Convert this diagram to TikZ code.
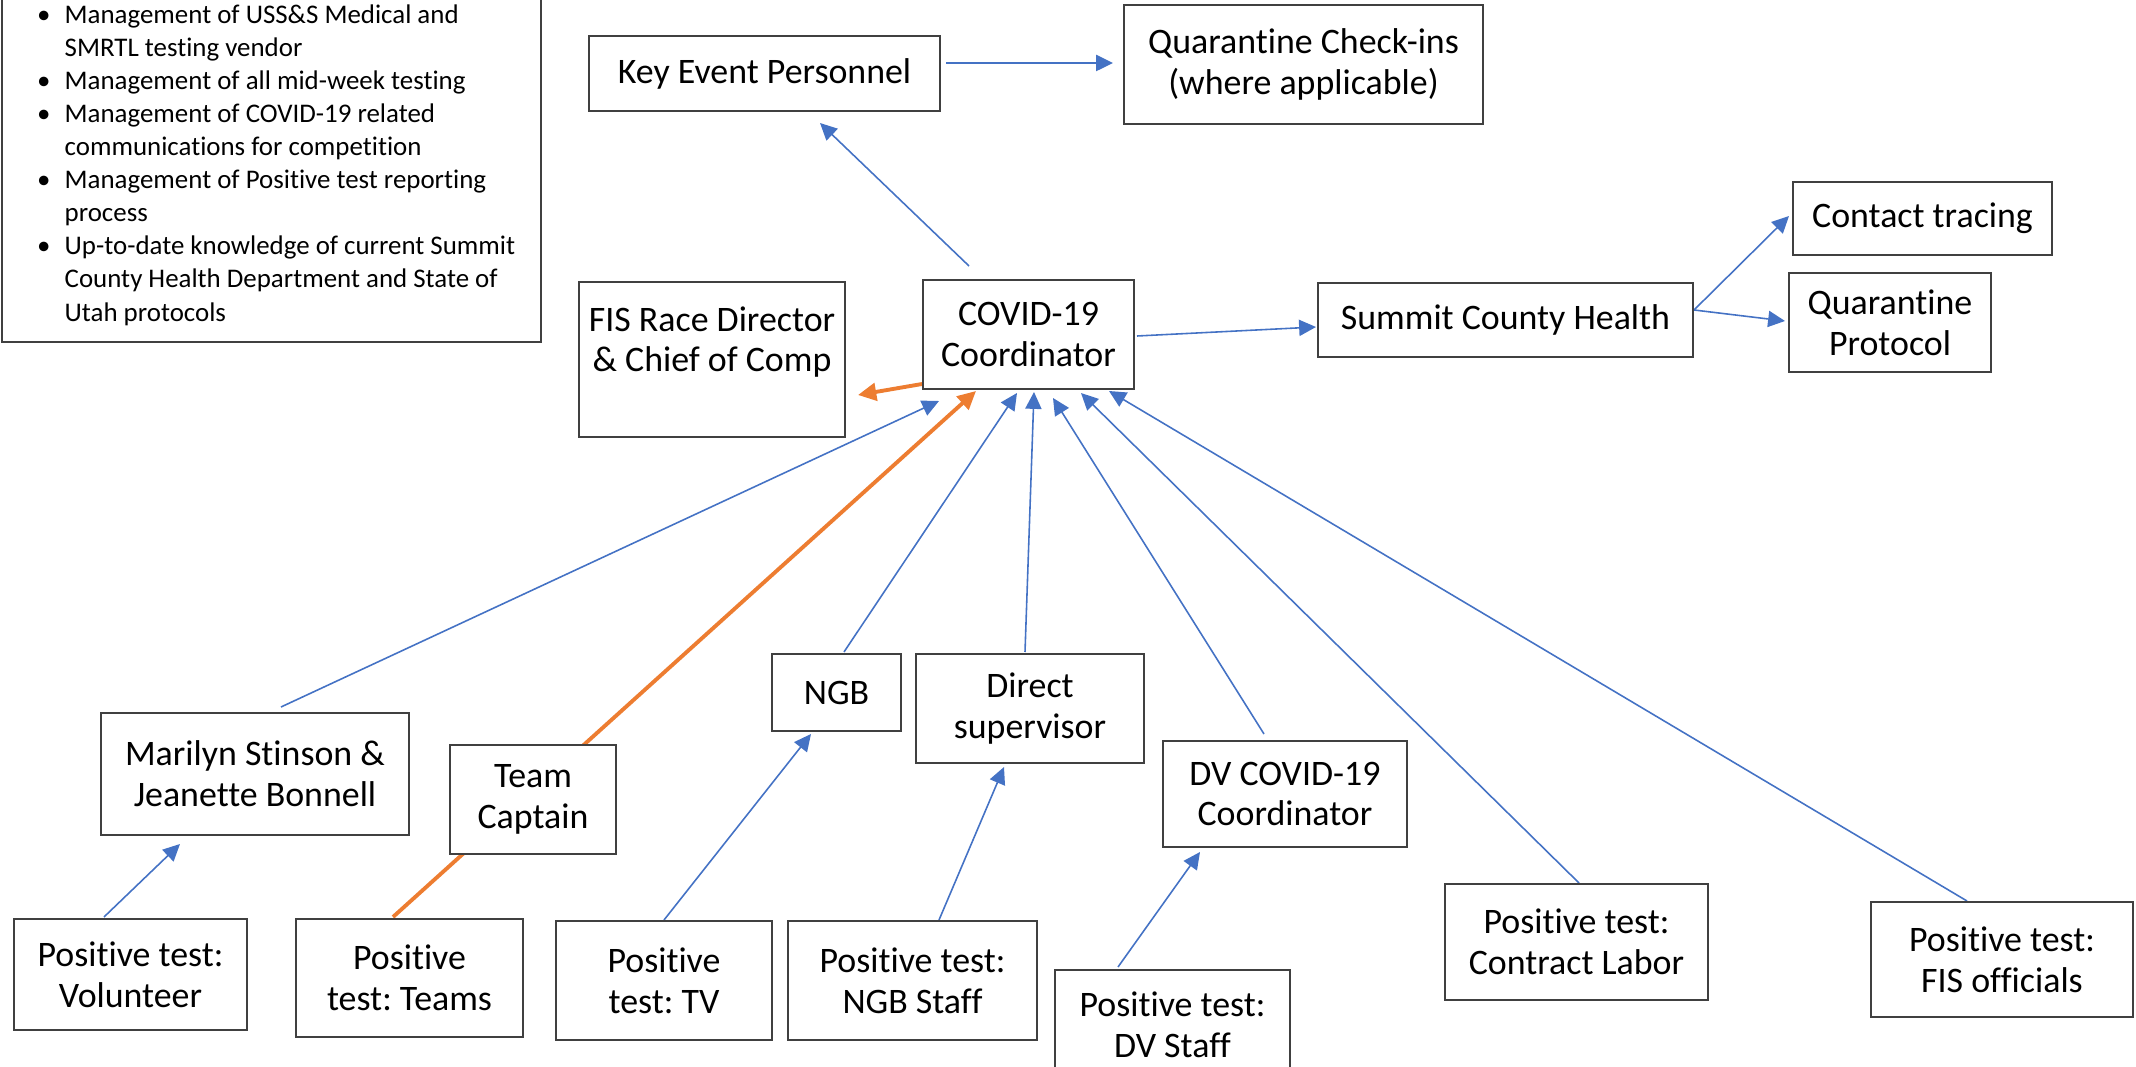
\documentclass[tikz,border=0pt]{standalone}
\usepackage{fontspec}
\setmainfont{Carlito}[Ligatures=NoCommon]
\usetikzlibrary{arrows.meta,calc,backgrounds}
\definecolor{lblue}{HTML}{4472C4}
\definecolor{lorange}{HTML}{ED7D31}
\definecolor{bord}{HTML}{404040}
\newcommand{\mybox}[6]{\node[box, minimum width={(#4-#2)*0.01cm}, minimum height={(#5-#3)*0.01cm}] (#1) at ({(#2+#4)/2},{(#3+#5)/2}) {#6};}
\newcommand{\bul}{\makebox[11.95pt]{\textbullet}}
\frenchspacing
\tikzset{
  box/.style={draw=bord, line width=0.57pt, fill=white, align=center, inner sep=1pt,
    font=\fontsize{10.2}{11.6}\selectfont},
  bluearrow/.style={draw=lblue, line width=0.45pt, -{Triangle[length=4.8pt,width=4.6pt,fill=lblue]}},
  orangearrow/.style={draw=lorange, line width=1.1pt, -{Triangle[length=5.2pt,width=5pt,fill=lorange]}},
}
\begin{document}
\begin{tikzpicture}[x={(0.01cm,0)}, y={(0,-0.01cm)}]
\useasboundingbox (0,0) rectangle (2136,1067);
\clip (0,0) rectangle (2136,1067);

% bullet list box
\mybox{mgmt}{2}{-20}{541}{342}{}
\node[anchor=north west, inner sep=0, font=\fontsize{7.65}{9.39}\selectfont] (list) at (22,0) {%
\begin{tabular}{@{}l@{}l@{}}
\bul & Management of USS\&S Medical and\\
 & SMRTL testing vendor\\
\bul & Management of all mid-week testing\\
\bul & Management of COVID-19 related\\
 & communications for competition\\
\bul & Management of Positive test reporting\\
 & process\\
\bul & Up-to-date knowledge of current Summit\\
 & County Health Department and State of\\
 & Utah protocols
\end{tabular}};

% boxes
\mybox{kep}{589}{36}{940}{111}{Key Event Personnel}
\mybox{qc}{1124}{5}{1483}{124}{Quarantine Check-ins\\(where applicable)}
\mybox{fis}{579}{282}{845}{437}{FIS Race Director\\\& Chief of Comp\\\mbox{}}
\mybox{cov}{923}{280}{1134}{389}{COVID-19\\Coordinator}
\mybox{sch}{1318}{283}{1693}{357}{Summit County Health}
\mybox{ct}{1793}{182}{2052}{255}{Contact tracing}
\mybox{qp}{1789}{273}{1991}{372}{Quarantine\\Protocol}
\mybox{mar}{101}{713}{409}{835}{Marilyn Stinson \&\\Jeanette Bonnell}
\mybox{tc}{450}{745}{616}{854}{Team\\Captain}
\mybox{ngb}{772}{654}{901}{731}{NGB}
\mybox{ds}{916}{654}{1144}{763}{Direct\\supervisor}
\mybox{vol}{14}{919}{247}{1030}{Positive test:\\Volunteer}
\mybox{teams}{296}{919}{523}{1037}{Positive\\test: Teams}
\mybox{tv}{556}{921}{772}{1040}{Positive\\test: TV}
\mybox{ngbs}{788}{921}{1037}{1040}{Positive test:\\NGB Staff}
\mybox{dvc}{1163}{741}{1407}{847}{DV COVID-19\\Coordinator}
\mybox{dvs}{1055}{970}{1290}{1080}{Positive test:\\DV Staff}
\mybox{cl}{1445}{884}{1708}{1000}{Positive test:\\Contract Labor}
\mybox{fiso}{1871}{902}{2133}{1017}{Positive test:\\FIS officials}

% connectors
\begin{scope}[on background layer]
\draw[bluearrow] ($(cov.north west)+(47,-13)$) -- ($(kep.south west)+(232,11)$);
\draw[bluearrow] ($(kep.north east)+(5,28)$) -- ($(qc.north west)+(-10,59)$);
\draw[bluearrow] ($(cov.east)+(2,1.5)$) -- ($(sch.west)+(-1,7)$);
\draw[bluearrow] ($(sch.east)+(0,-10)$) -- ($(ct.south west)+(-3,-40)$);
\draw[bluearrow] ($(sch.east)+(0,-10)$) -- ($(qp.west)+(-3,-1.5)$);
\draw[orangearrow] ($(cov.south west)+(0,-6)$) -- ($(fis.east)+(12,35.5)$);
\draw[bluearrow] ($(mar.north west)+(181,-5)$) -- ($(cov.south west)+(17,11)$);
\draw[orangearrow] ($(teams.north west)+(98,-1)$) -- ($(cov.south west)+(54,1)$);
\draw[bluearrow] ($(ngb.north west)+(73,-1)$) -- ($(cov.south west)+(95,3)$);
\draw[bluearrow] ($(ds.north west)+(110,-1)$) -- ($(cov.south west)+(112,2)$);
\draw[bluearrow] ($(dvc.north west)+(102,-6)$) -- ($(cov.south west)+(131,8)$);
\draw[bluearrow] ($(cl.north west)+(135,0)$) -- ($(cov.south west)+(159,3)$);
\draw[bluearrow] ($(fiso.north west)+(97,0)$) -- ($(cov.south west)+(187,1)$);
\draw[bluearrow] ($(vol.north west)+(91,-1)$) -- ($(mar.south west)+(80,8)$);
\draw[bluearrow] ($(tv.north west)+(109,0)$) -- ($(ngb.south west)+(40,2)$);
\draw[bluearrow] ($(ngbs.north west)+(152,0)$) -- ($(ds.south west)+(89,3)$);
\draw[bluearrow] ($(dvs.north west)+(64,-2)$) -- ($(dvc.south west)+(38,4)$);
\end{scope}
\end{tikzpicture}
\end{document}
